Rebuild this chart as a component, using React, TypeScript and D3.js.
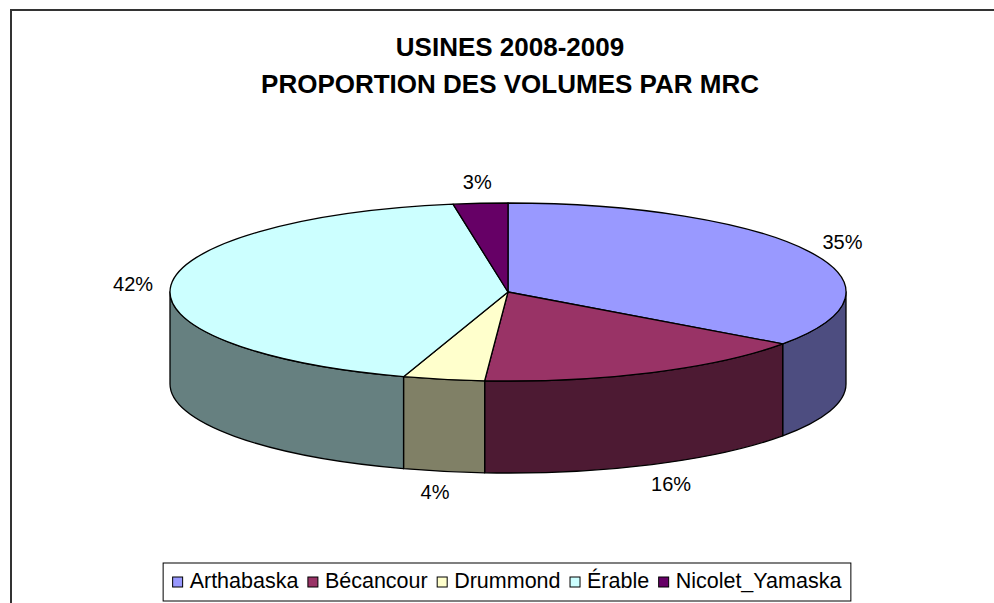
import React, { useMemo } from "react";
import * as d3 from "d3";

const categories = ["Arthabaska", "Bécancour", "Drummond", "Érable", "Nicolet_Yamaska"];
const values = [34.9, 16.2, 3.9, 42.4, 2.6];
const colors = ["#9999FF", "#993366", "#FFFFCC", "#CCFFFF", "#660066"];
const titleLines = ["USINES 2008-2009", "PROPORTION DES VOLUMES PAR MRC"];

const W = 994;
const H = 603;
const FONT = "'Liberation Sans', Arial, Helvetica, sans-serif";

const cx = 508;
const cy = 292;
const rx = 338;
const ry = 89;
const depth = 92;

function measure(text: string, size: number): number {
  const c = document.createElement("canvas");
  const ctx = c.getContext("2d");
  if (!ctx) return text.length * size * 0.55;
  ctx.font = `${size}px ${FONT}`;
  return ctx.measureText(text).width;
}

function darker(c: string): string {
  const r = d3.rgb(c);
  return d3.rgb(r.r * 0.5, r.g * 0.5, r.b * 0.5).formatHex();
}

export default function App() {
  const arcs = useMemo(
    () => d3.pie<number>().sort(null).startAngle(0).endAngle(2 * Math.PI)(values),
    []
  );
  const total = d3.sum(values);
  const fmt = d3.format(".0%");

  const pt = (a: number, dy = 0) =>
    `${(cx + rx * Math.sin(a)).toFixed(2)},${(cy - ry * Math.cos(a) + dy).toFixed(2)}`;

  const tops = arcs.map((a, i) => {
    const large = a.endAngle - a.startAngle > Math.PI ? 1 : 0;
    const d = `M${cx},${cy} L${pt(a.startAngle)} A${rx},${ry} 0 ${large} 1 ${pt(a.endAngle)} Z`;
    return { d, fill: colors[i] };
  });

  const sides = arcs
    .map((a, i) => {
      const s0 = Math.max(a.startAngle, Math.PI / 2);
      const s1 = Math.min(a.endAngle, (3 * Math.PI) / 2);
      if (s1 <= s0) return null;
      const large = s1 - s0 > Math.PI ? 1 : 0;
      const d = `M${pt(s0)} A${rx},${ry} 0 ${large} 1 ${pt(s1)} L${pt(s1, depth)} A${rx},${ry} 0 ${large} 0 ${pt(s0, depth)} Z`;
      return { d, fill: darker(colors[i]) };
    })
    .filter(Boolean) as { d: string; fill: string }[];

  const labels = arcs.map((a, i) => {
    const mid = (a.startAngle + a.endAngle) / 2;
    const front = Math.cos(mid) < 0;
    const lx = cx + (rx + (front ? 45 : 38)) * Math.sin(mid);
    const ly = cy - (ry + 21) * Math.cos(mid) + (front ? depth : 0);
    return { x: lx, y: ly, text: fmt(values[i] / total) };
  });

  // legend layout
  const legFont = 21.5;
  const sw = 10;
  const swGap = 7;
  const itemGap = 9.5;
  const pad = 9.5;
  const widths = categories.map((c) => measure(c, legFont));
  const contentW =
    d3.sum(widths) + categories.length * (sw + swGap) + (categories.length - 1) * itemGap;
  const boxW = contentW + 2 * pad;
  const boxX = 507 - boxW / 2;
  const boxY = 563;
  const boxH = 38;
  let acc = boxX + pad;
  const legendItems = categories.map((c, i) => {
    const x = acc;
    acc += sw + swGap + widths[i] + itemGap;
    return { x, name: c, color: colors[i] };
  });

  return (
    <svg
      width={W}
      height={H}
      style={{ position: "absolute", left: 0, top: 0, display: "block", background: "#fff" }}
      fontFamily={FONT}
    >
      <rect x={11} y={10} width={1000} height={700} fill="#fff" stroke="#333" strokeWidth={2} />
      <g textAnchor="middle" fontWeight="bold" fontSize={26} fill="#000">
        {titleLines.map((t, i) => (
          <text key={i} x={510} y={56 + i * 37}>
            {t}
          </text>
        ))}
      </g>
      <g stroke="#000" strokeWidth={1.3} strokeLinejoin="round">
        {sides.map((s, i) => (
          <path key={"s" + i} d={s.d} fill={s.fill} />
        ))}
        {tops.map((t, i) => (
          <path key={"t" + i} d={t.d} fill={t.fill} />
        ))}
      </g>
      <g fontSize={20} textAnchor="middle" fill="#000">
        {labels.map((l, i) => (
          <text key={i} x={l.x} y={l.y} dy="0.35em">
            {l.text}
          </text>
        ))}
      </g>
      <g>
        <rect x={boxX} y={boxY} width={boxW} height={boxH} fill="#fff" stroke="#000" strokeWidth={1} />
        {legendItems.map((it, i) => (
          <g key={i}>
            <rect x={it.x} y={577} width={sw} height={sw} fill={it.color} stroke="#000" strokeWidth={1} />
            <text x={it.x + sw + swGap} y={588} fontSize={legFont} fill="#000">
              {it.name}
            </text>
          </g>
        ))}
      </g>
    </svg>
  );
}
